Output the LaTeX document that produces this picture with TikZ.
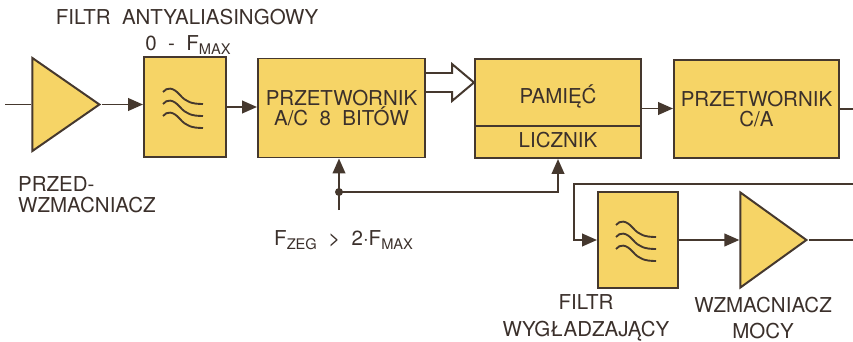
\documentclass[tikz,border=0pt]{standalone}
\usepackage{fontspec}
\setsansfont{TeX Gyre Heros}
\usetikzlibrary{positioning, shapes.geometric, arrows.meta}
\definecolor{boxfill}{HTML}{F6D466}
\definecolor{wire}{HTML}{45382E}
\definecolor{ink}{HTML}{3B302B}
\newcommand{\lowtxt}[1]{\raisebox{-0.45ex}{\fontsize{12.5}{12.5}\selectfont #1}}

\tikzset{
  block/.style={draw=wire, fill=boxfill, line width=1.7pt, inner sep=0pt, text=ink, align=center},
  amp/.style={draw=wire, fill=boxfill, line width=1.7pt, isosceles triangle,
              isosceles triangle stretches, inner sep=0pt},
  link/.style={draw=wire, line width=1.7pt, -{Triangle[length=0.45cm, width=0.38cm]}},
  plain/.style={draw=wire, line width=1.7pt},
  wave/.style={draw=wire, line width=1.6pt},
  txt/.style={text=ink, align=center, inner sep=0pt}
}

\begin{document}
\begin{tikzpicture}[font=\sffamily\fontsize{17.5}{17.5}\selectfont, x=0.03cm, y=-0.03cm]
  \useasboundingbox (0,0) rectangle (853,342);

  \node[amp, minimum height=2.01cm, minimum width=2.79cm, anchor=apex] (ampA) at (102,104.5) {};
  \node[block, minimum width=2.46cm, minimum height=3cm] (filtA) at (185,107) {};
  \node[block, minimum width=5.01cm, minimum height=2.97cm] (adc) at (341.5,108)
    {PRZETWORNIK\\A/C~~8~~BITÓW};
  \node[block, minimum width=4.98cm, minimum height=2.97cm] (mem) at (558,108.5) {};
  \node[block, minimum width=4.95cm, minimum height=2.94cm] (dac) at (756.5,109)
    {PRZETWORNIK\\C/A};
  \node[block, minimum width=2.4cm, minimum height=2.88cm] (filtB) at (638,240) {};
  \node[amp, minimum height=1.98cm, minimum width=2.85cm, anchor=apex] (ampB) at (809,240) {};

  \draw[plain] (mem.west |- 0,126) -- (mem.east |- 0,126);
  \node[txt, anchor=base] (memTop) at (558,104) {PAMIĘĆ};
  \node[txt, anchor=base] (memBot) at (558,148) {LICZNIK};

  \foreach \n in {filtA, filtB}
    \foreach \k in {0,1,2}
      \draw[wave, shift={(\n.center)}] (-22,-15+12*\k) .. controls (-18,-20+12*\k) and (-12,-20+12*\k)
        .. (-5,-12+12*\k) .. controls (1,-5+12*\k) and (7,-3+12*\k) .. (18,-3+12*\k);

  \coordinate (srcIn) at (5,104.5);
  \coordinate (dacOut) at (853,109);
  \coordinate (fbIn) at (853,184);
  \coordinate (ampOut) at (853,240);
  \coordinate (clk) at (339,210);
  \coordinate (clkSplit) at (339,192);

  \draw[plain] (srcIn) -- (ampA.west);
  \draw[link] (ampA.apex) -- (filtA.west |- ampA.apex);
  \draw[link] (filtA.east) -- (adc.west |- filtA.east);
  \draw[plain, fill=white] (adc.east |- 0,73) -- (452,73) -- (452,64) -- (mem.west |- 0,82.5)
    -- (452,101) -- (452,92) -- (adc.east |- 0,92);
  \draw[link] (mem.east) -- (dac.west |- mem.east);
  \draw[plain] (dac.east) -- (dacOut);
  \draw[link] (fbIn) -- (574,184) |- (filtB.west);
  \draw[link] (filtB.east) -- (ampB.west);
  \draw[plain] (ampB.apex) -- (ampOut);
  \draw[link] (clk) -- (clk |- adc.south);
  \draw[link] (clkSplit) -| (mem.south);
  \fill[wire] (clkSplit) circle (0.12cm);

  \node[txt] (aaTitle) at (187,17) {FILTR~~ANTYALIASINGOWY};
  \node[txt] (aaBand) at (188,45) {0~~-~~F\lowtxt{MAX}};
  \node[txt, align=left, anchor=west] (preLbl) at (18,194.5) {PRZED-\\WZMACNIACZ};
  \node[txt, anchor=base west] (clkLbl) at (274,245) {F\lowtxt{ZEG}~~>~~2·F\lowtxt{MAX}};
  \node[txt, font=\sffamily\fontsize{17.5}{23}\selectfont] (lpfLbl) at (586,318) {FILTR\\WYGŁADZAJĄCY};
  \node[txt, font=\sffamily\fontsize{17.5}{23}\selectfont] (pwrLbl) at (763,318) {WZMACNIACZ\\MOCY};
\end{tikzpicture}
\end{document}
